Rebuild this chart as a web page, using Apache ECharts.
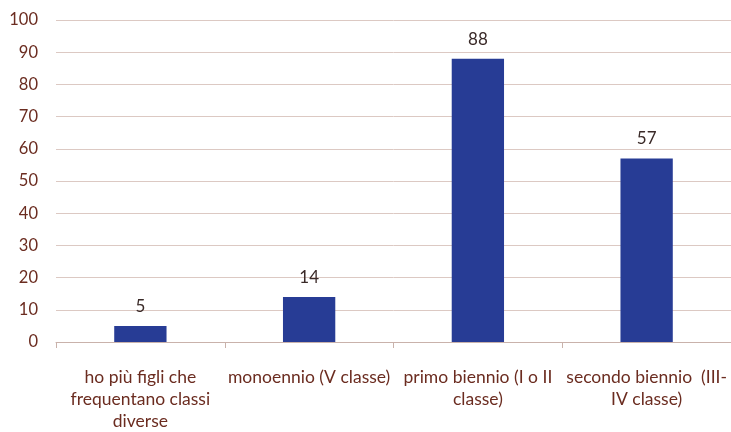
<!DOCTYPE html>
<html><head><meta charset="utf-8">
<script src="https://cdn.jsdelivr.net/npm/echarts@6/dist/echarts.min.js"></script>
<style>html,body{margin:0;padding:0;background:#fff}#c{width:731px;height:432px}</style>
</head><body><div id="c"></div>
<script>
const categories = ['ho più figli che\nfrequentano classi\ndiverse', 'monoennio (V classe)', 'primo biennio (I o II\nclasse)', 'secondo biennio  (III-\nIV classe)'];
const values = [5, 14, 88, 57];
const yTicks = {min: 0, max: 100, interval: 10};
const font = 'Lato, "Open Sans", sans-serif';
const textColor = '#6b2c20';
const chart = echarts.init(document.getElementById('c'));
chart.setOption({
  animation: false,
  grid: {left: 56, right: 0, top: 20, bottom: 86, containLabel: false},
  xAxis: {
    type: 'category', data: categories,
    axisLine: {lineStyle: {color: '#c9b2ab', width: 1}},
    axisTick: {show: true, length: 6, lineStyle: {color: '#c9b2ab'}},
    axisLabel: {color: textColor, fontFamily: font, fontSize: 17.5, lineHeight: 22, margin: 24, interval: 0}
  },
  yAxis: {
    type: 'value', min: yTicks.min, max: yTicks.max, interval: yTicks.interval,
    axisLine: {show: false}, axisTick: {show: false},
    splitLine: {lineStyle: {color: '#dcc9c3', width: 1}},
    axisLabel: {color: textColor, fontFamily: font, fontSize: 16.5, margin: 18}
  },
  series: [{
    type: 'bar', data: values, barWidth: '31%',
    itemStyle: {color: '#273c95'},
    label: {show: true, position: 'top', distance: 11, color: '#3a2a28', fontFamily: font, fontSize: 17}
  }]
});
</script></body></html>
